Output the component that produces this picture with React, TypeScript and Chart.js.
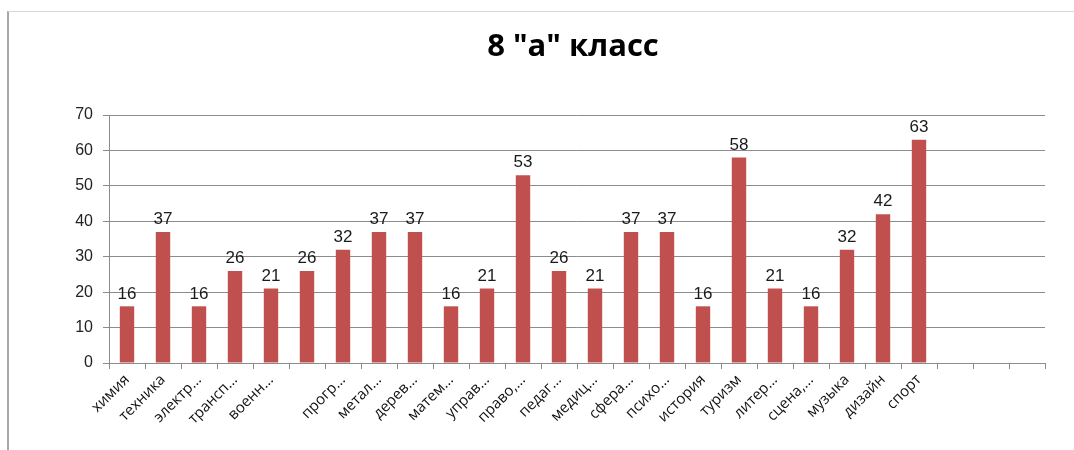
import React, { useEffect, useRef } from "react";
import { Chart, registerables } from "chart.js";

Chart.register(...registerables);

const TITLE = '8 "а" класс';
const categories = [
  "химия", "техника", "электр...", "трансп...", "военн...", "", "прогр...",
  "метал...", "дерев...", "матем...", "управ...", "право,...", "педаг...",
  "медиц...", "сфера...", "психо...", "история", "туризм", "литер...",
  "сцена,...", "музыка", "дизайн", "спорт", "", "", "",
];
const values: (number | null)[] = [
  16, 37, 16, 26, 21, 26, 32, 37, 37, 16, 21, 53, 26, 21, 37, 37, 16, 58, 21, 16, 32, 42, 63,
  null, null, null,
];
const yTicks = [0, 10, 20, 30, 40, 50, 60, 70];

const valueLabels = {
  id: "valueLabels",
  afterDatasetsDraw(chart: any) {
    const ctx = chart.ctx;
    const meta = chart.getDatasetMeta(0);
    ctx.save();
    ctx.font = '17px "Liberation Sans", Arial, sans-serif';
    ctx.fillStyle = "#1a1a1a";
    ctx.textAlign = "center";
    ctx.textBaseline = "bottom";
    meta.data.forEach((el: any, i: number) => {
      const v = values[i];
      if (v == null) return;
      ctx.fillText(String(v), el.x, el.y - 4);
    });
    ctx.restore();
  },
};

const titlePlugin = {
  id: "customTitle",
  afterDraw(chart: any) {
    const ctx = chart.ctx;
    ctx.save();
    ctx.font = 'bold 31px "Open Sans", sans-serif';
    ctx.fillStyle = "#000";
    ctx.textAlign = "center";
    ctx.textBaseline = "middle";
    ctx.fillText(TITLE, 573, 47);
    ctx.restore();
  },
};

export default function App() {
  const ref = useRef<HTMLCanvasElement>(null);
  useEffect(() => {
    if (!ref.current) return;
    const chart = new Chart(ref.current, {
      type: "bar",
      data: {
        labels: categories,
        datasets: [
          {
            data: values,
            backgroundColor: "#C0504D",
            borderWidth: 0,
            barPercentage: 0.4,
            categoryPercentage: 1,
          },
        ],
      },
      options: {
        animation: false,
        responsive: false,
        maintainAspectRatio: false,
        layout: { padding: { top: 115, right: 29, left: 0, bottom: 0 } },
        plugins: {
          legend: { display: false },
          title: { display: false },
          tooltip: { enabled: false },
        },
        scales: {
          x: {
            offset: true,
            grid: {
              display: true,
              offset: true,
              drawOnChartArea: false,
              tickLength: 6,
              color: "#8c8c8c",
            },
            border: { display: true, color: "#8c8c8c" },
            ticks: {
              autoSkip: false,
              maxRotation: 45,
              minRotation: 45,
              padding: 2,
              color: "#111",
              font: { family: '"Open Sans", sans-serif', size: 15 },
            },
            afterFit(scale: any) {
              scale.height = 87;
            },
          },
          y: {
            min: 0,
            max: 70,
            afterBuildTicks(scale: any) {
              scale.ticks = yTicks.map((v) => ({ value: v }));
            },
            grid: { color: "#8c8c8c", tickLength: 6 },
            border: { display: true, color: "#8c8c8c" },
            ticks: {
              padding: 10,
              color: "#222",
              font: { family: '"Liberation Sans", Arial, sans-serif', size: 16 },
            },
            afterFit(scale: any) {
              scale.width = 109;
            },
          },
        },
      },
      plugins: [valueLabels, titlePlugin],
    });
    return () => chart.destroy();
  }, []);

  return (
    <div
      style={{
        position: "fixed",
        left: 0,
        top: 0,
        width: 1074,
        height: 450,
        background: "#fff",
      }}
    >
      <div
        style={{
          position: "absolute",
          left: 7,
          top: 11,
          right: 0,
          bottom: 0,
          borderLeft: "2px solid #a8a8a8",
          borderTop: "1px solid #d8d8d8",
        }}
      />
      <canvas
        ref={ref}
        width={1074}
        height={450}
        style={{ position: "absolute", left: 0, top: 0, width: 1074, height: 450 }}
      />
    </div>
  );
}
